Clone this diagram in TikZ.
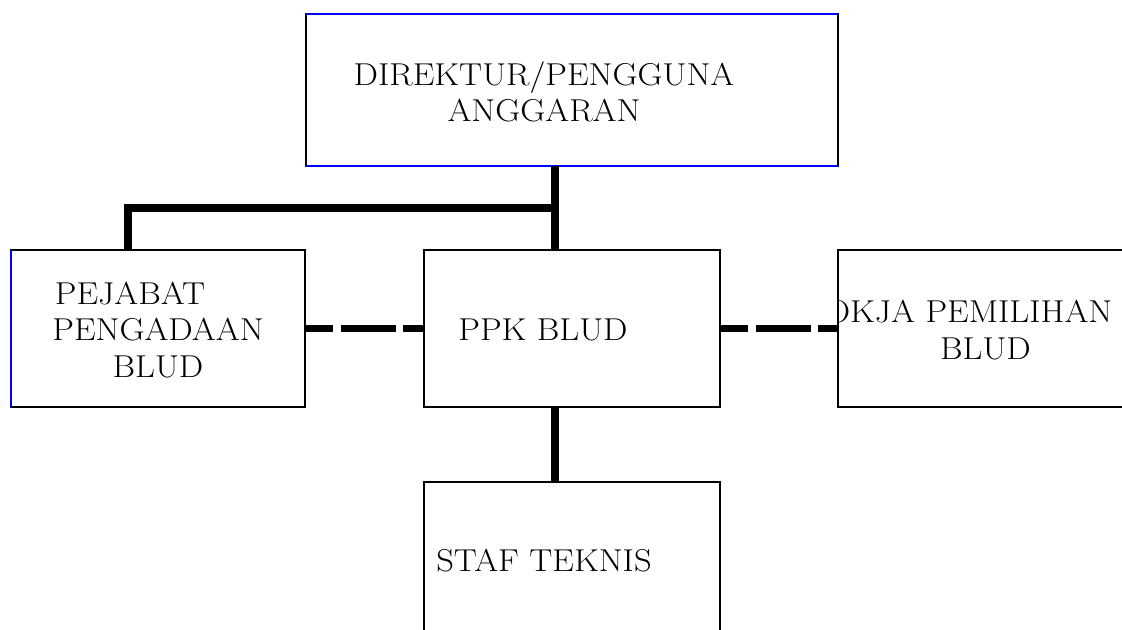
\documentclass[tikz,border=0pt]{standalone}
\usepackage{fontspec}
\newfontfamily\unitfont{Latin Modern Roman}[FakeStretch=1.09]
\usepackage{tikz}
\usetikzlibrary{positioning}

\begin{document}
\begin{tikzpicture}
% STYLES
\tikzset{%
    unit/.style={%
rectangle,
draw=black,
line width=0.9pt,
outer sep=0pt,
inner sep=0pt,
minimum width=5.92cm,
minimum height=3.14cm
                          },
    caption/.style={%
inner sep=0pt,
align=center,
font=\unitfont\fontsize{18}{20.8}\selectfont
                          },
    trunk/.style={line width=4.5pt},
    side/.style={line width=3.8pt, dash pattern=on 0.56cm off 0.15cm on 1.1cm off 0.15cm on 1cm}
             }
\useasboundingbox (0,0) rectangle (22.44,-12.58);
\clip (0,0) rectangle (22.44,-12.58);

% Draw units
\node [unit] (ppk) at (11.44,-6.57) {};
\node [unit, minimum width=10.64cm, minimum height=3.04cm, above=1.68cm of ppk] (dir) {};
\node [unit, minimum width=5.88cm, left=2.38cm of ppk] (pp) {};
\node [unit, minimum width=5.88cm, right=2.36cm of ppk] (pokja) {};
\node [unit, below=1.5cm of ppk] (staf) {};

% Blue edges
\draw[blue, line width=0.9pt] (dir.north west) -- (dir.north east);
\draw[blue, line width=0.9pt] (dir.south west) -- (dir.south east);
\draw[blue, line width=0.9pt] (pp.north west) -- (pp.south west);

% Texts
\node [caption] (dirtext) at ([xshift=-0.56cm, yshift=-0.04cm]dir.center) {DIREKTUR/PENGGUNA\\ANGGARAN};
\node [caption] (pptext) at ([yshift=-0.03cm]pp.center) {PEJABAT\hspace*{1.12cm}\\PENGADAAN\\BLUD};
\node [caption] (ppktext) at ([xshift=-0.58cm, yshift=-0.03cm]ppk.center) {PPK BLUD};
\node [caption] (staftext) at ([xshift=-0.56cm]staf.center) {STAF TEKNIS};
\begin{scope}
\clip (pokja.north west) rectangle (pokja.south east);
\node [caption] (pokjatext) at ([xshift=-0.54cm, yshift=-0.03cm]pokja.center) {POKJA PEMILIHAN\\\hspace*{1.1cm}BLUD};
\end{scope}

% Draw the links between units
\coordinate (fork) at (11.1,-4.16);
\draw[trunk] ([xshift=-0.34cm]dir.south) -- ([xshift=-0.34cm]ppk.north);
\draw[trunk] (fork) -| ([xshift=-0.6cm]pp.north);
\draw[trunk] ([xshift=-0.34cm]ppk.south) -- ([xshift=-0.34cm]staf.north);
\draw[side] (pp.east) -- (ppk.west);
\draw[side] (ppk.east) -- (pokja.west);
\end{tikzpicture}
\end{document}
